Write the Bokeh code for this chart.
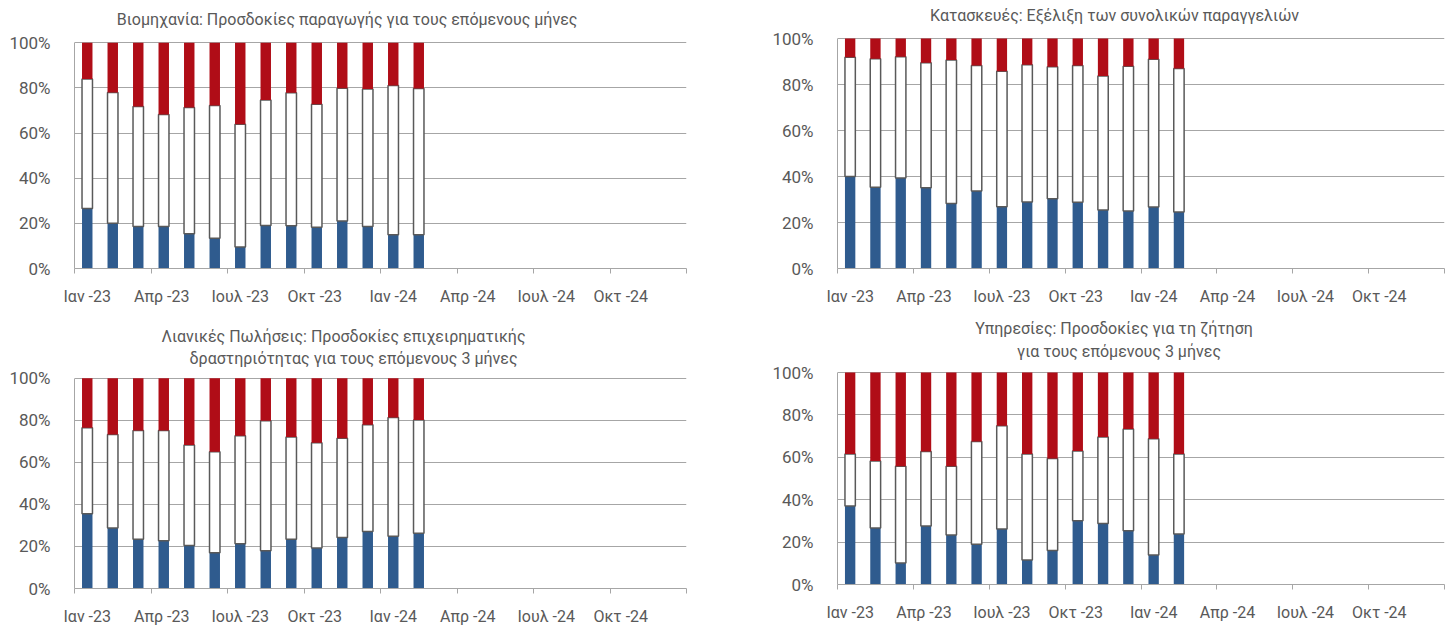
from bokeh.plotting import figure
from bokeh.models import ColumnDataSource, FixedTicker, Range1d
from bokeh.core.properties import value
from bokeh.layouts import column, row
from bokeh.embed import file_html
from bokeh.resources import INLINE

# ---------------- data ----------------
months = ["Ιαν -23", "Φεβ -23", "Μαρ -23", "Απρ  -23", "Μαϊ -23", "Ιουν -23",
          "Ιουλ -23", "Αυγ -23", "Σεπ -23", "Οκτ  -23", "Νοε -23", "Δεκ -23",
          "Ιαν -24", "Φεβ -24", "Μαρ -24", "Απρ  -24", "Μαϊ -24", "Ιουν -24",
          "Ιουλ -24", "Αυγ -24", "Σεπ -24", "Οκτ  -24", "Νοε -24", "Δεκ -24"]
tick_every = 3

# Industry: production expectations (increase / unchanged / decrease, %)
ind_up = [26.6, 20.1, 18.6, 18.6, 15.4, 13.4, 9.5, 19.1, 18.9, 18.3, 21.0, 18.6, 15.0, 15.0]
ind_same = [57.4, 57.9, 53.2, 49.7, 55.9, 58.8, 54.4, 55.6, 59.0, 54.5, 58.9, 60.9, 66.1, 64.8]
ind_down = [16.0, 22.0, 28.2, 31.7, 28.7, 27.8, 36.1, 25.3, 22.1, 27.2, 20.1, 20.5, 18.9, 20.2]

# Construction: total orders
con_up = [40.0, 35.3, 39.3, 35.1, 28.3, 33.7, 26.9, 28.9, 30.3, 28.8, 25.4, 25.0, 26.7, 24.6]
con_same = [51.9, 55.9, 52.8, 54.4, 62.3, 54.6, 58.9, 59.7, 57.4, 59.5, 58.3, 62.9, 64.3, 62.4]
con_down = [8.1, 8.8, 7.9, 10.5, 9.4, 11.7, 14.2, 11.4, 12.3, 11.7, 16.3, 12.1, 9.0, 13.0]

# Retail: business activity expectations, next 3 months
ret_up = [35.5, 28.8, 23.4, 22.7, 20.4, 17.0, 21.3, 17.9, 23.4, 19.3, 24.3, 27.1, 24.9, 26.3]
ret_same = [41.0, 44.4, 51.7, 52.5, 47.8, 48.1, 51.3, 61.9, 48.6, 50.0, 47.2, 50.8, 56.4, 53.9]
ret_down = [23.5, 26.8, 24.9, 24.8, 31.8, 34.9, 27.4, 20.2, 28.0, 30.7, 28.5, 22.1, 18.7, 19.8]

# Services: demand expectations, next 3 months
srv_up = [37.0, 26.6, 10.2, 27.6, 23.4, 19.0, 26.2, 11.6, 16.0, 30.1, 28.8, 25.4, 13.9, 23.8]
srv_same = [24.6, 31.6, 45.6, 35.1, 32.4, 48.4, 48.7, 50.0, 43.4, 32.9, 40.8, 48.0, 54.9, 37.8]
srv_down = [38.4, 41.8, 44.2, 37.3, 44.2, 32.6, 25.1, 38.4, 40.6, 37.0, 30.4, 26.6, 31.2, 38.4]

y_ticks = [0, 20, 40, 60, 80, 100]

# ---------------- style ----------------
FONT = "Roboto"
TXT = "#595959"
GRID = "#A6A6A6"
BLUE = "#2F5B8E"
RED = "#B00D17"
OUTLINE = "#595959"


def make_panel(up, same, down, title_lines, fig_origin, size, frame):
    """frame = (left, top, right, bottom) of the 0-100% plotting box, page px."""
    ox, oy = fig_origin
    w, h = size
    fl, ft, fr, fb = frame
    nx = len(months)
    py = (fb - ft) / 100.0          # px per percent
    y_top = 100 + (ft - oy) / py     # frame extends to top of the figure (room for titles)
    p = figure(width=w, height=h, x_range=Range1d(0, nx), y_range=Range1d(0, y_top),
               output_backend="svg", toolbar_location=None,
               min_border_left=fl - ox, min_border_right=ox + w - fr,
               min_border_top=0, min_border_bottom=oy + h - fb)
    p.outline_line_color = None
    p.background_fill_color = "white"
    p.border_fill_color = "white"

    n = len(up)
    xs = [i + 0.5 for i in range(n)]
    b1 = list(up)
    b2 = [u + s for u, s in zip(up, same)]
    b3 = [u + s + d for u, s, d in zip(up, same, down)]
    src = ColumnDataSource(dict(x=xs, b0=[0] * n, b1=b1, b2=b2, b3=b3))
    bw = 0.41
    p.vbar(x="x", width=bw, bottom="b0", top="b1", source=src, fill_color=BLUE, line_color=None)
    p.vbar(x="x", width=bw, bottom="b1", top="b2", source=src, fill_color="white",
           line_color=OUTLINE, line_width=1.5)
    p.vbar(x="x", width=bw, bottom="b2", top="b3", source=src, fill_color=RED, line_color=None)

    # x axis
    label_pos = [i + 0.5 for i in range(0, nx, tick_every)]
    p.xaxis.ticker = FixedTicker(ticks=label_pos, minor_ticks=list(range(0, nx + 1, tick_every)))
    p.xaxis.major_label_overrides = {i + 0.5: months[i] for i in range(0, nx, tick_every)}
    p.xaxis.major_tick_line_color = None
    p.xaxis.major_tick_out = 0
    p.xaxis.major_tick_in = 0
    p.xaxis.minor_tick_line_color = GRID
    p.xaxis.minor_tick_out = 5
    p.xaxis.minor_tick_in = 0
    p.xaxis.axis_line_color = GRID
    p.xaxis.major_label_standoff = 13
    p.xaxis.major_label_text_font = FONT
    p.xaxis.major_label_text_font_size = "16px"
    p.xaxis.major_label_text_color = TXT
    p.xgrid.visible = False

    # y axis
    p.yaxis.ticker = FixedTicker(ticks=y_ticks)
    p.yaxis.bounds = (0, 100)
    p.yaxis.major_label_overrides = {t: f"{t}%" for t in y_ticks}
    p.yaxis.major_tick_line_color = None
    p.yaxis.minor_tick_line_color = None
    p.yaxis.major_tick_out = 0
    p.yaxis.axis_line_color = GRID
    p.yaxis.major_label_standoff = 24
    p.yaxis.major_label_text_font = FONT
    p.yaxis.major_label_text_font_size = "17px"
    p.yaxis.major_label_text_color = TXT
    p.ygrid.grid_line_color = GRID
    p.ygrid.grid_line_width = 1

    # titles (text placed inside the extended frame)
    tx = [(cx - fl) * nx / (fr - fl) for _, cx, _ in title_lines]
    ty = [(fb - cy) / py for _, _, cy in title_lines]
    tt = [t for t, _, _ in title_lines]
    p.text(x=tx, y=ty, text=tt, text_align="center", text_baseline="middle",
           text_font=value(FONT), text_font_size="16px", text_color=TXT)
    return p


p1 = make_panel(ind_up, ind_same, ind_down,
                [("Βιομηχανία: Προσδοκίες παραγωγής για τους επόμενους μήνες", 346, 19)],
                (0, 0), (760, 308), (73, 43, 686, 272))
p2 = make_panel(con_up, con_same, con_down,
                [("Κατασκευές: Εξέλιξη των συνολικών παραγγελιών", 1113, 15)],
                (760, 0), (694, 308), (835, 38, 1444, 268))
p3 = make_panel(ret_up, ret_same, ret_down,
                [("Λιανικές Πωλήσεις: Προσδοκίες επιχειρηματικής", 343, 336),
                 ("δραστηριότητας για τους επόμενους 3 μήνες", 353, 359)],
                (0, 308), (760, 320), (74, 379, 686, 593))
p4 = make_panel(srv_up, srv_same, srv_down,
                [("Υπηρεσίες: Προσδοκίες για τη ζήτηση", 1114, 328),
                 ("για τους  επόμενους 3 μήνες", 1121, 351)],
                (760, 308), (694, 320), (837, 372, 1445, 584))

layout = row(column(p1, p3), column(p2, p4))
open("out.html", "w").write(file_html(layout, INLINE))
